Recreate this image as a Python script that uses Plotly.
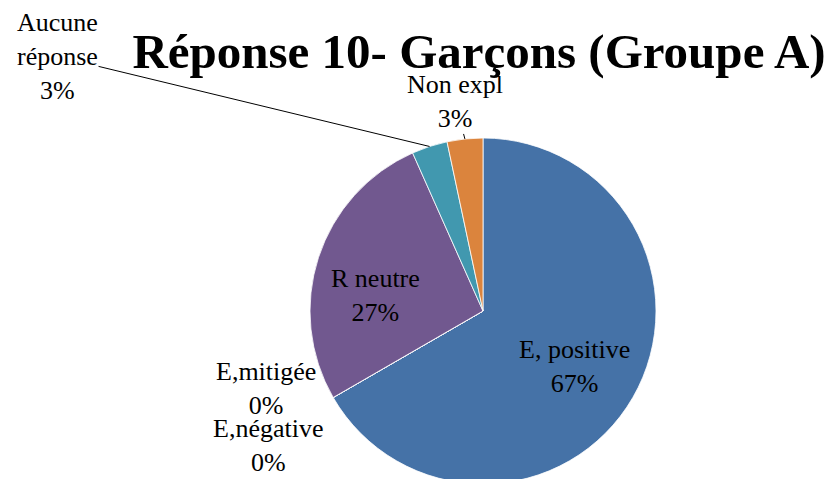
import math
import plotly.graph_objects as go

# ---- data ----
categories = ["E, positive", "E,négative", "E,mitigée", "R neutre", "Aucune réponse", "Non expl"]
display_labels = ["E, positive", "E,négative", "E,mitigée", "R neutre", "Aucune<br>réponse", "Non expl"]
counts = [20, 0, 0, 8, 1, 1]
colors = ["#4572A7", "#AA4643", "#89A54E", "#71588F", "#4198AF", "#DB843D"]
title_text = "Réponse 10- Garçons (Groupe A)"

# ---- layout geometry (figure pixels; page body adds an 8px offset) ----
W, H = 833, 479
OFF = 8
CX, CY, R = 483 - OFF, 311 - OFF, 173
FONT = "Liberation Serif"

total = sum(counts)
pcts = [round(100 * c / total) for c in counts]

# label placement: ("in", dx, dy) offset from pie centre; ("arrow", ax, ay) from slice edge mid;
# ("edge", dx, dy) offset from slice start point on edge
placement = {
    "E, positive": ("in", 91, 55),
    "R neutre": ("in", -108, -16),
    "E,mitigée": ("edge", -67, -9),
    "E,négative": ("edge", -65, 48),
    "Aucune réponse": ("arrow", -372, -90),
    "Non expl": ("arrow", -10, -37),
}

def to_paper(x, y):
    return x / W, 1 - y / H

def edge(angle_deg, frac=1.0):
    a = math.radians(angle_deg)
    return CX + frac * R * math.sin(a), CY - frac * R * math.cos(a)

fig = go.Figure(go.Pie(
    labels=categories,
    values=counts,
    sort=False,
    direction="clockwise",
    rotation=0,
    textinfo="none",
    hoverinfo="label+percent",
    marker=dict(colors=colors, line=dict(color="white", width=0.8)),
    domain=dict(x=[(CX - R) / W, (CX + R) / W], y=[(H - CY - R) / H, (H - CY + R) / H]),
    showlegend=False,
))

annotations = []
cum = 0.0
for cat, lab, c, p in zip(categories, display_labels, counts, pcts):
    start = 360 * cum / total
    span = 360 * c / total
    mid = start + span / 2
    cum += c
    kind, u, v = placement[cat]
    text = f"{lab}<br>{p}%"
    fnt = dict(family=FONT, size=26, color="black")
    if kind == "in":
        px, py = to_paper(CX + u, CY + v)
        annotations.append(dict(x=px, y=py, xref="paper", yref="paper", text=text,
                                showarrow=False, font=fnt, xanchor="center", yanchor="middle"))
    elif kind == "edge":
        ex, ey = edge(start)
        px, py = to_paper(ex + u, ey + v)
        annotations.append(dict(x=px, y=py, xref="paper", yref="paper", text=text,
                                showarrow=False, font=fnt, xanchor="center", yanchor="middle"))
    else:
        ex, ey = edge(mid)
        px, py = to_paper(ex, ey)
        annotations.append(dict(x=px, y=py, xref="paper", yref="paper", text=text,
                                showarrow=True, arrowhead=0, arrowwidth=1, arrowcolor="black",
                                ax=u, ay=v, standoff=0, borderpad=0, font=fnt))

fig.update_layout(
    width=W, height=H,
    margin=dict(l=0, r=0, t=0, b=0),
    paper_bgcolor="white",
    plot_bgcolor="white",
    title=dict(text=f"<b>{title_text}</b>", x=(479 - OFF) / W, xanchor="center",
               y=1 - 43 / H, yanchor="middle", yref="paper",
               font=dict(family=FONT, size=49, color="black")),
    annotations=annotations,
)

fig.write_html("out.html")
